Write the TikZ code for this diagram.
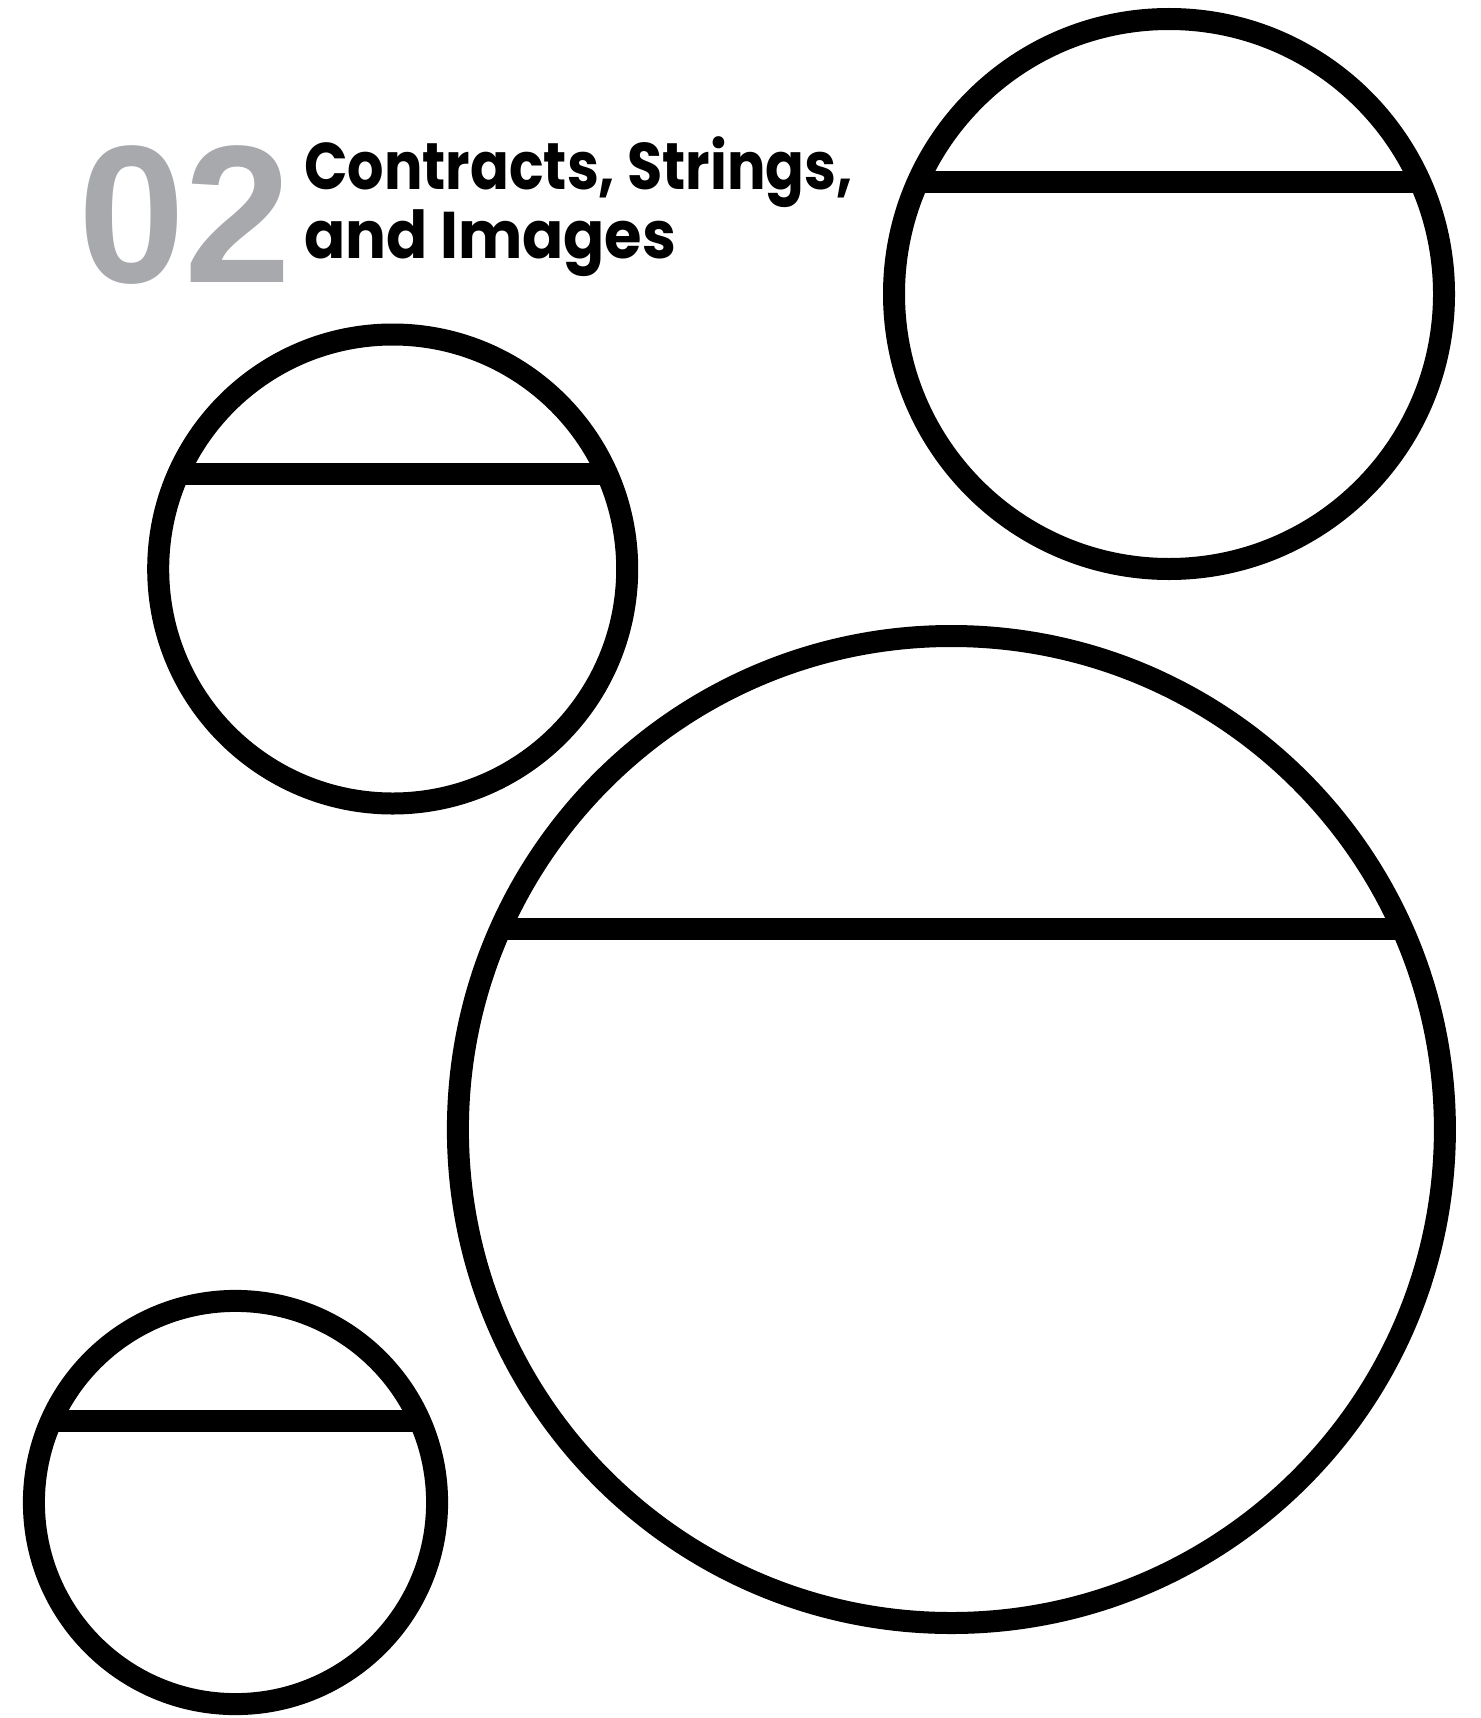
\documentclass[tikz,border=0pt]{standalone}
\usepackage{fontspec}
\newfontfamily\headfont{Poppins}
\newfontfamily\numfont{Liberation Sans}
\definecolor{numgray}{RGB}{167,169,172}
\begin{document}
\begin{tikzpicture}[x=0.5pt,y=-0.5pt,line width=11pt,every node/.style={inner sep=0pt,anchor=base west}]
\useasboundingbox (0,0) rectangle (1480,1718);
\coordinate (P) at (1169,294);
\coordinate (Q) at (392.7,569);
\coordinate (R) at (951.4,1129.5);
\coordinate (S) at (235.5,1502.5);
\draw (P) circle[radius=275];
\draw (917.8,182) -- (1420.2,182);
\draw (Q) circle[radius=234.5];
\draw (178.3,474) -- (607.1,474);
\draw (R) circle[radius=493.5];
\draw (500.5,929) -- (1402.3,929);
\draw (S) circle[radius=201.6];
\draw (51.2,1420.8) -- (419.8,1420.8);
\node[font=\numfont\bfseries\fontsize{98}{98}\selectfont,text=numgray] (num) at (67,282) {\scalebox{0.98}[1]{02}};
\node[font=\headfont\bfseries\fontsize{33}{33}\selectfont] (line1) at (293,189.5) {\scalebox{0.867}[1]{Contracts, Strings,}};
\node[font=\headfont\bfseries\fontsize{33}{33}\selectfont] (line2) at (293,258) {\scalebox{0.92}[1]{and Images}};
\end{tikzpicture}
\end{document}
